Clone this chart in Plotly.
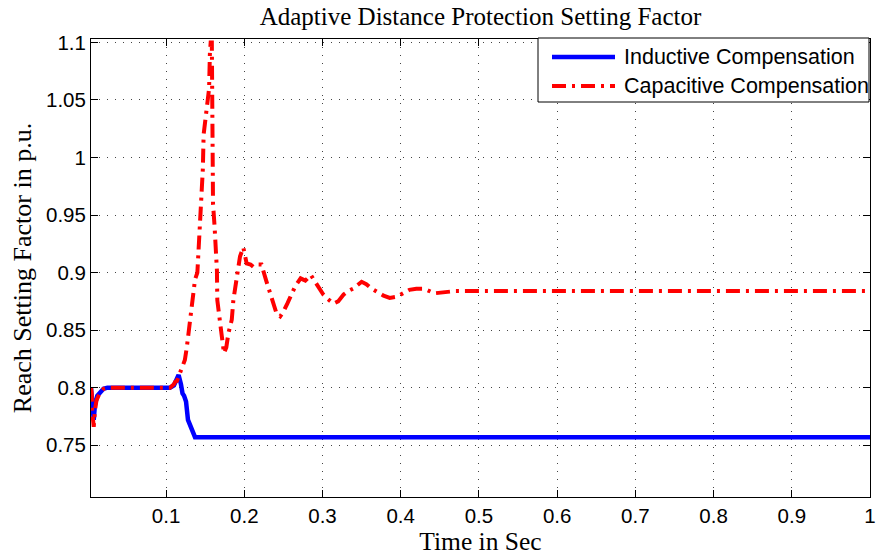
import plotly.graph_objects as go

# ---------------- data ----------------
ind_t = [0.004, 0.0055, 0.0065, 0.0075, 0.009, 0.012, 0.016, 0.020, 0.025, 0.105, 0.110,
         0.113, 0.116, 0.119, 0.121, 0.123, 0.1255, 0.128, 0.130, 0.132, 0.134, 0.136, 0.137, 1.0]
ind_v = [0.800, 0.790, 0.775, 0.772, 0.785, 0.793, 0.796, 0.799, 0.800, 0.800, 0.802,
         0.806, 0.811, 0.803, 0.795, 0.793, 0.788, 0.772, 0.768, 0.764, 0.760, 0.758, 0.757, 0.757]

cap_t = [0.004, 0.005, 0.0055, 0.0065, 0.0075, 0.009, 0.011, 0.015, 0.020, 0.025, 0.105,
         0.110, 0.1115, 0.114, 0.118, 0.121, 0.124, 0.1265, 0.1285, 0.131, 0.133, 0.135,
         0.137, 0.140, 0.142, 0.1436, 0.145, 0.147, 0.148, 0.151, 0.153, 0.155, 0.156,
         0.157, 0.1585, 0.159, 0.1592, 0.1595, 0.160, 0.162, 0.163, 0.165, 0.1655, 0.168,
         0.171, 0.174, 0.177, 0.1796, 0.184, 0.186, 0.190, 0.1945, 0.1987, 0.203, 0.208,
         0.2115, 0.217, 0.222, 0.228, 0.233, 0.241, 0.246, 0.250, 0.255, 0.259, 0.265,
         0.272, 0.278, 0.285, 0.289, 0.295, 0.301, 0.307, 0.314, 0.320, 0.327, 0.333,
         0.339, 0.350, 0.356, 0.363, 0.370, 0.378, 0.386, 0.395, 0.403, 0.411, 0.420,
         0.430, 0.443, 0.455, 0.470, 0.490, 1.0]
cap_v = [0.800, 0.795, 0.780, 0.768, 0.766, 0.780, 0.789, 0.795, 0.799, 0.800, 0.800,
         0.803, 0.805, 0.806, 0.813, 0.820, 0.824, 0.835, 0.846, 0.858, 0.870, 0.885,
         0.894, 0.900, 0.925, 0.946, 0.965, 0.990, 1.020, 1.035, 1.050, 1.060, 1.090,
         1.100, 1.100, 1.065, 1.040, 1.000, 0.960, 0.940, 0.931, 0.902, 0.876, 0.860,
         0.846, 0.830, 0.835, 0.847, 0.859, 0.876, 0.894, 0.914, 0.922, 0.908, 0.907,
         0.905, 0.907, 0.907, 0.893, 0.882, 0.865, 0.862, 0.866, 0.873, 0.879, 0.888,
         0.895, 0.893, 0.898, 0.894, 0.888, 0.881, 0.877, 0.873, 0.875, 0.881, 0.884,
         0.886, 0.892, 0.890, 0.886, 0.883, 0.880, 0.878, 0.879, 0.882, 0.885, 0.886,
         0.886, 0.882, 0.883, 0.884, 0.884, 0.884]

x_ticks = [0.1, 0.2, 0.3, 0.4, 0.5, 0.6, 0.7, 0.8, 0.9, 1.0]
x_labels = ["0.1", "0.2", "0.3", "0.4", "0.5", "0.6", "0.7", "0.8", "0.9", "1"]
y_ticks = [0.75, 0.8, 0.85, 0.9, 0.95, 1.0, 1.05, 1.1]
y_labels = ["0.75", "0.8", "0.85", "0.9", "0.95", "1", "1.05", "1.1"]

series_names = ["Inductive Compensation", "Capacitive Compensation"]
title_text = "Adaptive Distance Protection Setting Factor"
x_title = "Time in Sec"
y_title = "Reach Setting Factor in p.u."

BLUE = "#0000ff"
RED = "#ff0000"
RED_DASH = "14px,6px,3px,6px"
SERIF = "Liberation Serif, Times New Roman, serif"
SANS = "Liberation Sans, Arial, sans-serif"

W, H = 876, 558
L, R, T, B = 91, 6, 39, 61

fig = go.Figure()
fig.add_trace(go.Scatter(x=ind_t, y=ind_v, mode="lines", name=series_names[0],
                         line=dict(color=BLUE, width=4.5), showlegend=False))
fig.add_trace(go.Scatter(x=cap_t, y=cap_v, mode="lines", name=series_names[1],
                         line=dict(color=RED, width=4, dash=RED_DASH), showlegend=False))

axis_common = dict(showline=True, linecolor="black", linewidth=1, mirror="ticks",
                   ticks="inside", ticklen=7, tickcolor="black", showgrid=True,
                   gridcolor="#444444", gridwidth=1, griddash="1px,7px", zeroline=False,
                   automargin=False,
                   tickfont=dict(family=SANS, size=20.5, color="black"))

fig.update_xaxes(range=[0.004, 1.0], tickmode="array", tickvals=x_ticks, ticktext=x_labels,
                 title=dict(text=x_title, font=dict(family=SERIF, size=25.5, color="black"),
                            standoff=2), **axis_common)
fig.update_yaxes(range=[0.705, 1.103], tickmode="array", tickvals=y_ticks, ticktext=y_labels,
                 title=dict(text=y_title, font=dict(family=SERIF, size=26, color="black"),
                            standoff=6), **axis_common)

# manual legend (pixel -> paper coordinates)
pw, ph = W - L - R, H - T - B
def px(xp):
    return (xp - L) / pw
def py(yp):
    return (H - B - yp) / ph

shapes = [
    dict(type="rect", xref="paper", yref="paper", x0=px(538), x1=px(869), y0=py(102), y1=py(38),
         line=dict(color="black", width=1), fillcolor="white", layer="above"),
    dict(type="line", xref="paper", yref="paper", x0=px(552), x1=px(615), y0=py(57), y1=py(57),
         line=dict(color=BLUE, width=4.5), layer="above"),
    dict(type="line", xref="paper", yref="paper", x0=px(552), x1=px(615), y0=py(86), y1=py(86),
         line=dict(color=RED, width=4, dash=RED_DASH), layer="above"),
]
annotations = [
    dict(xref="paper", yref="paper", x=px(622), y=py(57), text=series_names[0], showarrow=False,
         xanchor="left", yanchor="middle", font=dict(family=SANS, size=21.5, color="black")),
    dict(xref="paper", yref="paper", x=px(622), y=py(86), text=series_names[1], showarrow=False,
         xanchor="left", yanchor="middle", font=dict(family=SANS, size=21.5, color="black")),
]

fig.update_layout(
    width=W, height=H,
    margin=dict(l=L, r=R, t=T, b=B),
    paper_bgcolor="white", plot_bgcolor="white",
    title=dict(text=title_text, x=(L + (W - R)) / 2 / W, xanchor="center", y=1 - 16 / H,
               yanchor="middle", font=dict(family=SERIF, size=25, color="black")),
    shapes=shapes, annotations=annotations,
    showlegend=False,
)

fig.write_html("out.html")
